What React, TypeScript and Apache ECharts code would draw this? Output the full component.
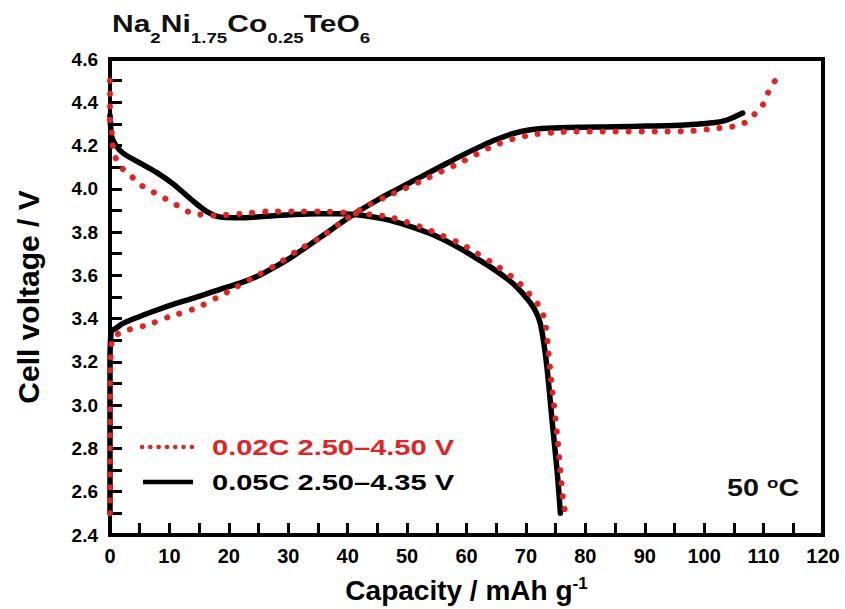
import React, { useEffect, useRef } from "react";
import * as echarts from "echarts";

const FONT = "'Liberation Sans', Arial, Helvetica, sans-serif";
const RED = "#e02323";
const BLACK = "#000000";

// 0.05C 2.50–4.35 V (black, solid) — discharge branch
const blackDischargeCap = [0, 0.1, 0.3, 1, 2.2, 5, 7.9, 10.5, 13.5, 16.3, 19, 22, 24.7, 30.3, 35, 38.7, 41.5, 44.3, 47, 51, 54, 56.7, 59.5, 62.3, 64.5, 66.8, 68.5, 70.7, 71.7, 72.4, 73, 73.6, 74.4, 75.3, 75.8];
const blackDischargeV = [4.34, 4.29, 4.24, 4.2, 4.165, 4.12, 4.075, 4.025, 3.955, 3.895, 3.868, 3.866, 3.87, 3.88, 3.885, 3.885, 3.88, 3.87, 3.855, 3.822, 3.792, 3.757, 3.715, 3.668, 3.63, 3.585, 3.545, 3.475, 3.43, 3.38, 3.29, 3.16, 2.93, 2.68, 2.5];
// 0.05C — charge branch
const blackChargeCap = [0, 0, 0.2, 1, 2.2, 5, 7.9, 10.5, 13.5, 16, 19, 22, 24.7, 27.5, 30.3, 33, 35.9, 38.7, 41, 43, 45.5, 48, 51, 53.5, 56.7, 59.5, 62.3, 65, 67.8, 70.5, 73.6, 79, 85, 90.4, 95, 98.5, 101.5, 103.5, 104.9, 106.5];
const blackChargeV = [2.5, 3.2, 3.34, 3.355, 3.378, 3.41, 3.44, 3.465, 3.49, 3.512, 3.54, 3.565, 3.595, 3.635, 3.68, 3.73, 3.785, 3.84, 3.882, 3.916, 3.956, 3.993, 4.036, 4.072, 4.118, 4.158, 4.195, 4.228, 4.255, 4.272, 4.28, 4.285, 4.287, 4.29, 4.293, 4.298, 4.305, 4.315, 4.33, 4.35];

// 0.02C 2.50–4.50 V (red, dotted) — discharge branch
const redDischargeCap = [0, 0, 0, 0.3, 0.5, 1, 2.2, 3.9, 5.6, 7.6, 9.6, 11.5, 13.5, 15.7, 18, 22.2, 26.6, 31.1, 35.4, 39.9, 44.3, 46.6, 49.5, 52.7, 55.8, 58.9, 61.7, 64.5, 67.8, 69.5, 71, 72.4, 73.2, 73.7, 74.4, 75.3, 76.3, 76.6];
const redDischargeV = [4.5, 4.4, 4.31, 4.26, 4.19, 4.14, 4.09, 4.05, 4.01, 3.98, 3.95, 3.92, 3.89, 3.88, 3.877, 3.885, 3.895, 3.895, 3.895, 3.89, 3.88, 3.872, 3.85, 3.82, 3.785, 3.748, 3.703, 3.655, 3.59, 3.548, 3.5, 3.45, 3.39, 3.27, 3.08, 2.85, 2.55, 2.51];
// 0.02C — charge branch
const redChargeCap = [0, 0, 0.3, 2.2, 6.2, 10.1, 14.6, 18.2, 20.2, 24.1, 28.1, 31.6, 35.4, 39, 42.5, 46.6, 49.5, 52.7, 55.8, 58.9, 61.7, 64.5, 67.8, 71.2, 74.5, 78, 85, 92, 98, 102.2, 104.4, 106.5, 108.3, 109.7, 110.5, 111.6, 112];
const redChargeV = [2.5, 3.0, 3.3, 3.34, 3.37, 3.41, 3.45, 3.5, 3.53, 3.59, 3.65, 3.715, 3.775, 3.845, 3.91, 3.965, 4.0, 4.04, 4.08, 4.12, 4.16, 4.198, 4.23, 4.25, 4.26, 4.265, 4.265, 4.265, 4.268, 4.28, 4.286, 4.3, 4.34, 4.38, 4.43, 4.49, 4.5];

const seriesNames = ["0.02C 2.50–4.50 V", "0.05C 2.50–4.35 V"];
const xAxisRange = [0, 120];
const yAxisRange = [2.4, 4.6];

const zip = (a: number[], b: number[]) => a.map((x, i) => [x, b[i]]);

export default function App() {
  const ref = useRef<HTMLDivElement>(null);

  useEffect(() => {
    if (!ref.current) return;
    const chart = echarts.init(ref.current, undefined, { renderer: "svg" });

    const blackLine = { color: BLACK, width: 5.5, cap: "round", join: "round" };
    const redLine = { color: RED, width: 6, type: [0.1, 12.9], cap: "round", join: "round" };

    const tickStyle = { color: BLACK, width: 3 };

    chart.setOption({
      animation: false,
      backgroundColor: "#ffffff",
      grid: {
        left: 110,
        top: 59,
        right: 22,
        bottom: 73,
        show: true,
        borderColor: BLACK,
        borderWidth: 4,
        backgroundColor: "transparent",
      },
      xAxis: {
        type: "value",
        min: xAxisRange[0],
        max: xAxisRange[1],
        interval: 10,
        name: "{m|Capacity / mAh g}{s|-1}",
        nameLocation: "middle",
        nameGap: 40,
        nameTextStyle: {
          rich: {
            m: { fontSize: 28, fontWeight: "bold", fontFamily: FONT, color: BLACK, lineHeight: 30, verticalAlign: "middle" },
            s: { fontSize: 17, fontWeight: "bold", fontFamily: FONT, color: BLACK, lineHeight: 17, verticalAlign: "top" },
          },
        },
        axisLine: { show: true, lineStyle: { color: BLACK, width: 4 } },
        axisTick: { show: true, inside: true, length: 12, lineStyle: tickStyle },
        minorTick: { show: true, splitNumber: 2, length: 12, lineStyle: tickStyle },
        splitLine: { show: false },
        axisLabel: {
          fontSize: 20,
          fontWeight: "bold",
          fontFamily: FONT,
          color: BLACK,
          margin: 11,
        },
      },
      yAxis: {
        type: "value",
        min: yAxisRange[0],
        max: yAxisRange[1],
        interval: 0.2,
        name: "Cell voltage / V",
        nameLocation: "middle",
        nameRotate: 90,
        nameGap: 67,
        nameTextStyle: { fontSize: 30, fontWeight: "bold", fontFamily: FONT, color: BLACK },
        axisLine: { show: true, lineStyle: { color: BLACK, width: 4 } },
        axisTick: { show: true, inside: true, length: 12, lineStyle: tickStyle },
        minorTick: { show: true, splitNumber: 2, length: 12, lineStyle: tickStyle },
        splitLine: { show: false },
        axisLabel: {
          fontSize: 19,
          fontWeight: "bold",
          fontFamily: FONT,
          color: BLACK,
          margin: 12,
          formatter: (v: number) => v.toFixed(1),
        },
      },
      series: [
        {
          type: "line",
          name: seriesNames[1],
          data: zip(blackDischargeCap, blackDischargeV),
          symbol: "none",
          smooth: 0.35,
          clip: false,
          lineStyle: blackLine,
          z: 3,
        },
        {
          type: "line",
          name: seriesNames[1],
          data: zip(blackChargeCap, blackChargeV),
          symbol: "none",
          smooth: 0.35,
          clip: false,
          lineStyle: blackLine,
          z: 3,
        },
        {
          type: "line",
          name: seriesNames[0],
          data: zip(redDischargeCap, redDischargeV),
          symbol: "none",
          smooth: 0.3,
          clip: false,
          lineStyle: redLine,
          z: 4,
        },
        {
          type: "line",
          name: seriesNames[0],
          data: zip(redChargeCap, redChargeV),
          symbol: "none",
          smooth: 0.3,
          clip: false,
          lineStyle: redLine,
          z: 4,
        },
      ],
      graphic: [
        {
          type: "text",
          x: 112,
          y: 24,
          scaleX: 1.25,
          style: {
            text: "{m|Na}{s|2}{m|Ni}{s|1.75}{m|Co}{s|0.25}{m|TeO}{s|6}",
            align: "left",
            verticalAlign: "middle",
            rich: {
              m: { fontSize: 24, fontWeight: "bold", fontFamily: FONT, fill: "#111111", lineHeight: 44, verticalAlign: "middle" },
              s: { fontSize: 15, fontWeight: "bold", fontFamily: FONT, fill: "#111111", lineHeight: 16, verticalAlign: "bottom" },
            },
          },
        },
        {
          type: "line",
          shape: { x1: 142, y1: 447, x2: 192, y2: 447 },
          style: { stroke: RED, lineWidth: 4.5, lineDash: [0.1, 8.2], lineCap: "round" },
          z: 10,
        },
        {
          type: "text",
          x: 212,
          y: 447.5,
          scaleX: 1.32,
          style: {
            text: seriesNames[0],
            fill: RED,
            fontSize: 22,
            fontWeight: "bold",
            fontFamily: FONT,
            align: "left",
            verticalAlign: "middle",
          },
          z: 10,
        },
        {
          type: "line",
          shape: { x1: 143, y1: 482, x2: 193, y2: 482 },
          style: { stroke: BLACK, lineWidth: 4.5 },
          z: 10,
        },
        {
          type: "text",
          x: 212,
          y: 482,
          scaleX: 1.32,
          style: {
            text: seriesNames[1],
            fill: BLACK,
            fontSize: 22,
            fontWeight: "bold",
            fontFamily: FONT,
            align: "left",
            verticalAlign: "middle",
          },
          z: 10,
        },
        {
          type: "text",
          x: 727,
          y: 488.5,
          scaleX: 1.25,
          style: {
            text: "{m|50 }{s|o}{m|C}",
            align: "left",
            verticalAlign: "middle",
            rich: {
              m: { fontSize: 23, fontWeight: "bold", fontFamily: FONT, fill: "#111111", lineHeight: 26, verticalAlign: "middle" },
              s: { fontSize: 15, fontWeight: "bold", fontFamily: FONT, fill: "#111111", lineHeight: 16, verticalAlign: "top" },
            },
          },
          z: 10,
        },
      ],
    });

    return () => {
      chart.dispose();
    };
  }, []);

  return (
    <div
      ref={ref}
      style={{ position: "absolute", left: 0, top: 0, width: 845, height: 609, background: "#ffffff" }}
    />
  );
}
